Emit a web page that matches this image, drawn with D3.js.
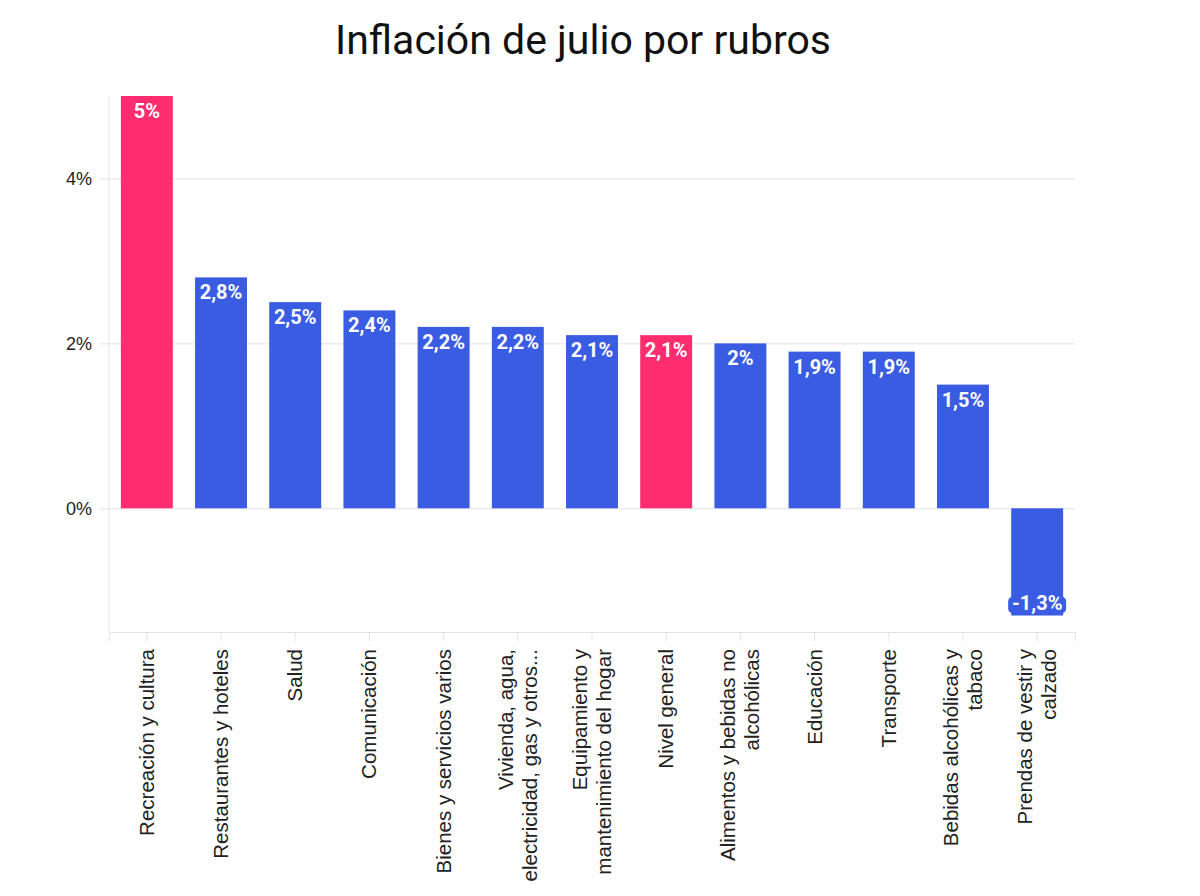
<!DOCTYPE html>
<html lang="es">
    <head>
        <meta charset="utf-8">
        <title>Inflación de julio por rubros</title>
        <script src="https://d3js.org/d3.v7.min.js"></script>
        <style type="text/css">
            body{
                margin: 0;
                background: #fff;
            }
            svg{
                display: block;
            }
            .title{
                font-family: Roboto, sans-serif;
                font-size: 41px;
                fill: #111;
            }
            .axis text{
                font-family: "Liberation Sans", Arial, sans-serif;
                font-size: 18px;
                fill: #222;
            }
            .xaxis text{
                font-size: 20.5px;
            }
            .val{
                font-family: Roboto, sans-serif;
                font-weight: 700;
                font-size: 20px;
                fill: #fff;
            }
        </style>
    </head>
    <body>
        <svg></svg>
        <script type="text/javascript">

        const w = 1200;
        const h = 896;

        //DATA
        const categories = [
            ["Recreación y cultura"],
            ["Restaurantes y hoteles"],
            ["Salud"],
            ["Comunicación"],
            ["Bienes y servicios varios"],
            ["Vivienda, agua,", "electricidad, gas y otros..."],
            ["Equipamiento y", "mantenimiento del hogar"],
            ["Nivel general"],
            ["Alimentos y bebidas no", "alcohólicas"],
            ["Educación"],
            ["Transporte"],
            ["Bebidas alcohólicas y", "tabaco"],
            ["Prendas de vestir y", "calzado"]
        ];
        const values = [5, 2.8, 2.5, 2.4, 2.2, 2.2, 2.1, 2.1, 2, 1.9, 1.9, 1.5, -1.3];
        const highlight = [true, false, false, false, false, false, false, true, false, false, false, false, false];
        const yTicks = [0, 2, 4];

        const dataset = categories.map((c, i) => ({name: c.join(" "), lines: c, val: values[i], hi: highlight[i]}));

        const margin = {top: 96, right: 125, bottom: 264, left: 109};

        //SCALES
        const x = d3.scaleBand()
                    .domain(dataset.map(d => d.name))
                    .range([margin.left, w - margin.right])
                    .paddingInner(0.3)
                    .paddingOuter(0.16);

        const y = d3.scaleLinear()
                    .domain([-1.5, 5])
                    .range([h - margin.bottom, margin.top]);

        const fmt = v => String(v).replace(".", ",") + "%";

        const svg = d3.select("svg").attr("width", w).attr("height", h);

        //TITLE
        svg.append("text")
           .attr("class", "title")
           .attr("x", 583)
           .attr("y", 54)
           .attr("text-anchor", "middle")
           .text("Inflación de julio por rubros");

        //Y AXIS + GRID
        const yAxis = svg.append("g")
                         .attr("class", "axis")
                         .attr("transform", `translate(${margin.left},0)`)
                         .call(d3.axisLeft(y)
                                 .tickValues(yTicks)
                                 .tickSize(-(w - margin.left - margin.right))
                                 .tickFormat(d => d + "%"));
        yAxis.select(".domain").remove();
        yAxis.selectAll(".tick line")
             .attr("x1", -9)
             .attr("stroke", "#e3e3e3");
        yAxis.selectAll(".tick text").attr("x", -17);

        svg.append("line")
           .attr("x1", margin.left).attr("x2", margin.left)
           .attr("y1", margin.top).attr("y2", h - margin.bottom)
           .attr("stroke", "#e3e3e3");

        //X AXIS
        const xAxis = svg.append("g")
                         .attr("class", "axis xaxis")
                         .attr("transform", `translate(0,${h - margin.bottom})`)
                         .call(d3.axisBottom(x).tickSize(9).tickFormat(""));
        xAxis.select(".domain").attr("stroke", "#e3e3e3");
        xAxis.selectAll(".tick line").attr("stroke", "#e3e3e3");

        xAxis.selectAll(".tick")
             .data(dataset)
             .append("text")
             .attr("transform", "rotate(-90)")
             .attr("text-anchor", "end")
             .attr("x", -17)
             .attr("y", 0)
             .each(function(d){
                 const t = d3.select(this);
                 const n = d.lines.length;
                 d.lines.forEach((line, i) => {
                     t.append("tspan")
                      .attr("x", -17)
                      .attr("dy", i === 0 ? (-(n - 1) * 12 + 7) : 24)
                      .text(line);
                 });
             });

        //BARS
        svg.selectAll("rect.bar")
           .data(dataset)
           .join("rect")
           .attr("class", "bar")
           .attr("x", d => x(d.name))
           .attr("width", x.bandwidth())
           .attr("y", d => y(Math.max(0, d.val)))
           .attr("height", d => Math.abs(y(d.val) - y(0)))
           .attr("fill", d => d.hi ? "#ff2d6f" : "#3a5ce2");

        //NEGATIVE LABEL BACKGROUND
        svg.selectAll("rect.lblbg")
           .data(dataset.filter(d => d.val < 0))
           .join("rect")
           .attr("class", "lblbg")
           .attr("x", d => x(d.name) + x.bandwidth() / 2 - 29)
           .attr("y", d => y(d.val) - 19)
           .attr("width", 58)
           .attr("height", 17)
           .attr("rx", 5)
           .attr("fill", "#3a5ce2");

        //VALUE LABELS
        svg.selectAll("text.val")
           .data(dataset)
           .join("text")
           .attr("class", "val")
           .attr("text-anchor", "middle")
           .attr("x", d => x(d.name) + x.bandwidth() / 2)
           .attr("y", d => d.val >= 0 ? y(d.val) + 22 : y(d.val) - 6)
           .text(d => fmt(d.val));

        </script>
    </body>
</html>
